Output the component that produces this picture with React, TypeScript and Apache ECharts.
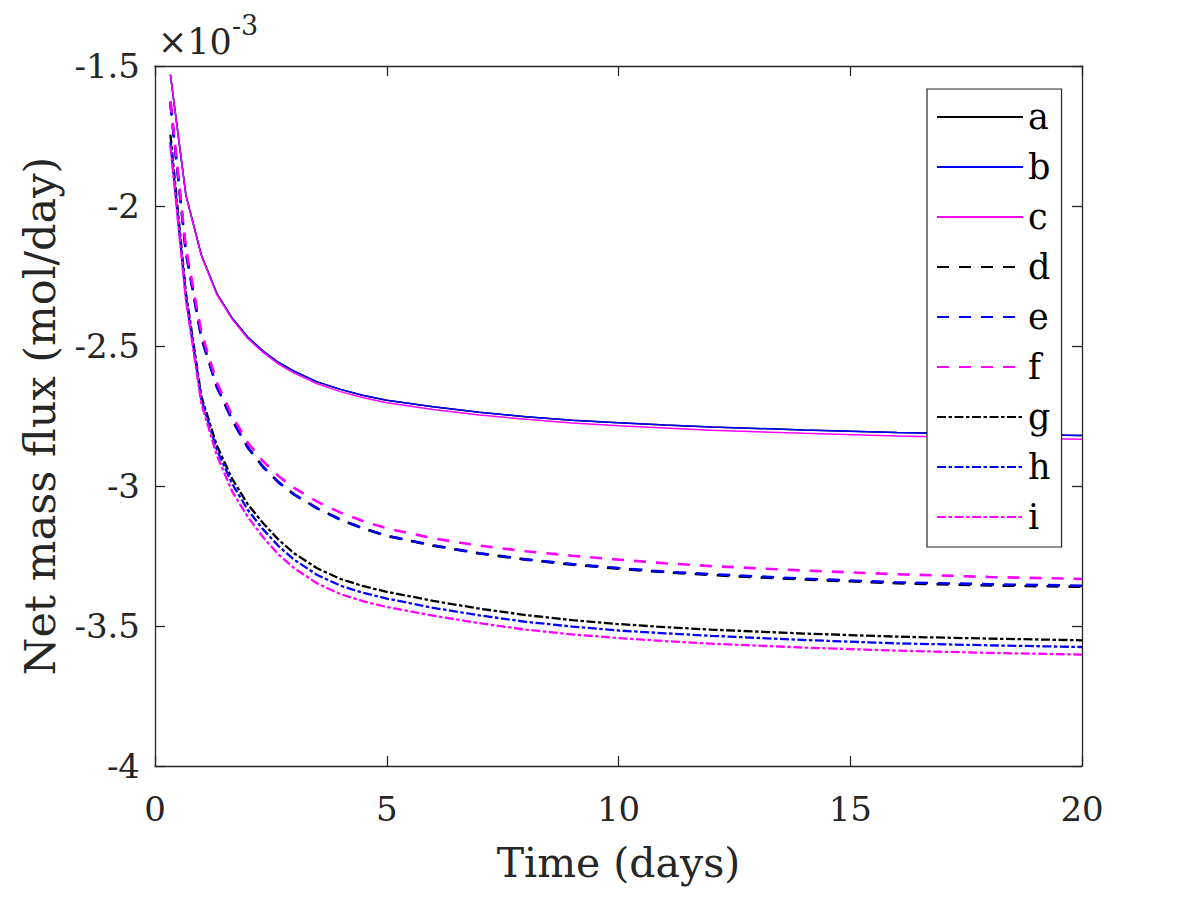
import React, { useEffect, useRef } from "react";
import * as echarts from "echarts";

const times = [0.333, 0.667, 1, 1.333, 1.667, 2, 2.333, 2.667, 3, 3.5, 4, 4.5, 5, 6, 7, 8, 9, 10, 11, 12, 14, 16, 18, 20];

const seriesA = [-1.532, -1.961, -2.175, -2.312, -2.401, -2.468, -2.518, -2.559, -2.59, -2.628, -2.655, -2.677, -2.694, -2.717, -2.737, -2.753, -2.765, -2.774, -2.782, -2.789, -2.8, -2.809, -2.815, -2.82];
const seriesB = [-1.532, -1.961, -2.175, -2.312, -2.401, -2.468, -2.518, -2.559, -2.59, -2.628, -2.655, -2.677, -2.694, -2.717, -2.737, -2.753, -2.765, -2.774, -2.782, -2.789, -2.8, -2.809, -2.815, -2.82];
const seriesC = [-1.53, -1.962, -2.178, -2.316, -2.405, -2.473, -2.523, -2.565, -2.597, -2.635, -2.663, -2.685, -2.703, -2.727, -2.746, -2.762, -2.775, -2.785, -2.793, -2.801, -2.812, -2.821, -2.828, -2.833];
const seriesD = [-1.63, -2.165, -2.47, -2.645, -2.765, -2.862, -2.932, -2.987, -3.03, -3.08, -3.12, -3.152, -3.178, -3.213, -3.241, -3.263, -3.281, -3.295, -3.308, -3.318, -3.334, -3.347, -3.355, -3.36];
const seriesE = [-1.635, -2.165, -2.47, -2.645, -2.765, -2.862, -2.932, -2.987, -3.03, -3.08, -3.12, -3.152, -3.177, -3.212, -3.24, -3.262, -3.279, -3.293, -3.306, -3.315, -3.331, -3.344, -3.351, -3.356];
const seriesF = [-1.625, -2.15, -2.45, -2.63, -2.75, -2.845, -2.912, -2.965, -3.007, -3.056, -3.095, -3.126, -3.151, -3.187, -3.213, -3.233, -3.249, -3.263, -3.276, -3.286, -3.302, -3.315, -3.325, -3.332];
const seriesG = [-1.745, -2.31, -2.68, -2.855, -2.975, -3.065, -3.133, -3.192, -3.24, -3.294, -3.332, -3.358, -3.378, -3.41, -3.438, -3.461, -3.479, -3.493, -3.504, -3.513, -3.527, -3.538, -3.545, -3.551];
const seriesH = [-1.772, -2.325, -2.69, -2.87, -2.993, -3.085, -3.155, -3.215, -3.263, -3.318, -3.356, -3.382, -3.402, -3.435, -3.462, -3.485, -3.502, -3.516, -3.526, -3.535, -3.55, -3.562, -3.569, -3.575];
const seriesI = [-1.785, -2.335, -2.705, -2.89, -3.02, -3.11, -3.183, -3.245, -3.293, -3.348, -3.386, -3.412, -3.432, -3.463, -3.49, -3.513, -3.53, -3.543, -3.554, -3.563, -3.577, -3.588, -3.596, -3.602];

const names = ["a", "b", "c", "d", "e", "f", "g", "h", "i"];
const allValues = [seriesA, seriesB, seriesC, seriesD, seriesE, seriesF, seriesG, seriesH, seriesI];
const colors = ["#000000", "#0000ff", "#ff00ff"];

const FONT = "DejaVu Serif";
const TXT = "#262626";

export default function App() {
  const ref = useRef<HTMLDivElement>(null);
  useEffect(() => {
    if (!ref.current) return;
    const chart = echarts.init(ref.current, null, { renderer: "svg" });
    const styles = [
      { type: "solid" as any, width: 1.5 },
      { type: [12, 10] as any, width: 2.6 },
      { type: [9, 2.5, 3.5, 2.5] as any, width: 2.3 },
    ];
    const series = names.map((n, k) => {
      const st = styles[Math.floor(k / 3)];
      return {
        name: n,
        type: "line",
        xAxisIndex: 0,
        yAxisIndex: 0,
        data: times.map((t, j) => [t, allValues[k][j]]),
        showSymbol: false,
        symbol: "none",
        smooth: false,
        lineStyle: { color: colors[k % 3], width: st.width, type: st.type },
        itemStyle: { color: colors[k % 3] },
      };
    });
    const mkLine = () => ({ show: true, onZero: false, lineStyle: { color: TXT, width: 1.3 } });
    const mkTick = () => ({ show: true, inside: true, length: 10, lineStyle: { color: TXT, width: 1.3 } });
    chart.setOption({
      animation: false,
      backgroundColor: "#ffffff",
      grid: { left: 155, top: 66, right: 114, bottom: 131, containLabel: false },
      xAxis: [
        {
          type: "value",
          min: 0,
          max: 20,
          interval: 5,
          position: "bottom",
          axisLine: mkLine(),
          axisTick: mkTick(),
          splitLine: { show: false },
          axisLabel: { color: TXT, fontFamily: FONT, fontSize: 34, margin: 26 },
          name: "Time (days)",
          nameLocation: "middle",
          nameGap: 76,
          nameTextStyle: { color: TXT, fontFamily: FONT, fontSize: 41 },
        },
        {
          type: "value",
          min: 0,
          max: 20,
          interval: 5,
          position: "top",
          axisLine: mkLine(),
          axisTick: mkTick(),
          splitLine: { show: false },
          axisLabel: { show: false },
        },
      ],
      yAxis: [
        {
          type: "value",
          min: -4,
          max: -1.5,
          interval: 0.5,
          position: "left",
          axisLine: mkLine(),
          axisTick: mkTick(),
          splitLine: { show: false },
          axisLabel: { color: TXT, fontFamily: FONT, fontSize: 34, margin: 15 },
          name: "Net mass flux (mol/day)",
          nameLocation: "middle",
          nameGap: 94,
          nameTextStyle: { color: TXT, fontFamily: FONT, fontSize: 43 },
        },
        {
          type: "value",
          min: -4,
          max: -1.5,
          interval: 0.5,
          position: "right",
          axisLine: mkLine(),
          axisTick: mkTick(),
          splitLine: { show: false },
          axisLabel: { show: false },
        },
      ],
      legend: {
        data: names,
        orient: "vertical",
        left: 927,
        top: 89,
        padding: [8, 11, 10, 9],
        itemWidth: 86,
        itemHeight: 14,
        itemGap: 10,
        borderColor: TXT,
        borderWidth: 1.2,
        backgroundColor: "#ffffff",
        itemStyle: { opacity: 0 },
        textStyle: { color: "#000000", fontFamily: FONT, fontSize: 35, lineHeight: 40 },
      },
      graphic: [
        {
          type: "text",
          x: 158,
          y: 41.5,
          style: { text: "×10", fill: TXT, font: `35px "${FONT}"`, verticalAlign: "middle", align: "left" },
        },
        {
          type: "text",
          x: 232,
          y: 25,
          style: { text: "-3", fill: TXT, font: `27px "${FONT}"`, verticalAlign: "middle", align: "left" },
        },
      ],
      series,
    });
    return () => chart.dispose();
  }, []);
  return (
    <div
      ref={ref}
      style={{ position: "absolute", left: 0, top: 0, width: 1196, height: 897, background: "#fff" }}
    />
  );
}
